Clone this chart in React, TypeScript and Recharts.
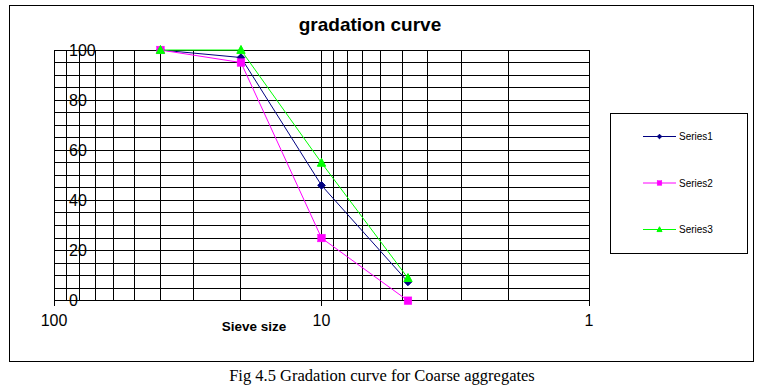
import React from 'react';
import { LineChart, Line, XAxis, YAxis, CartesianGrid, Legend } from 'recharts';

const sieveSizes = [40, 20, 10, 4.75];
const series1 = [100, 97, 46, 7.5];
const series2 = [100, 95, 25, 0];
const series3 = [100, 100, 55, 9];
const seriesNames = ['Series1', 'Series2', 'Series3'];
const seriesColors = ['#000080', '#FF00FF', '#00FF00'];
const xTicks = [100, 90, 80, 70, 60, 50, 40, 30, 20, 10, 9, 8, 7, 6, 5, 4, 3, 2, 1];
const xLabelTicks = [100, 10, 1];
const yTicks = [0, 5, 10, 15, 20, 25, 30, 35, 40, 45, 50, 55, 60, 65, 70, 75, 80, 85, 90, 95, 100];
const yLabelTicks = [0, 20, 40, 60, 80, 100];
const titleText = 'gradation curve';
const xAxisTitle = 'Sieve size';
const captionText = 'Fig 4.5 Gradation curve for Coarse aggregates';

const data = sieveSizes.map((x, i) => ({ x, s1: series1[i], s2: series2[i], s3: series3[i] }));

const SANS = '"Liberation Sans", Arial, sans-serif';
const SERIF = '"Liberation Serif", "Times New Roman", serif';

const markerShape = (idx: number, cx: number, cy: number, s: number, key?: any) => {
  const c = seriesColors[idx];
  if (idx === 0) {
    return (
      <polygon key={key} points={`${cx},${cy - s} ${cx + s},${cy} ${cx},${cy + s} ${cx - s},${cy}`} fill={c} stroke={c} />
    );
  }
  if (idx === 1) {
    return <rect key={key} x={cx - s} y={cy - s} width={2 * s} height={2 * s} fill={c} stroke={c} strokeWidth={0.5} />;
  }
  return (
    <polygon
      key={key}
      points={`${cx},${cy - s * 1.2} ${cx + s * 1.1},${cy + s * 0.9} ${cx - s * 1.1},${cy + s * 0.9}`}
      fill={c}
      stroke={c}
    />
  );
};

const makeDot = (idx: number) => (props: any) => {
  const { cx, cy, index } = props;
  if (cx == null || cy == null) return <g key={`d${idx}-${index}`} />;
  return markerShape(idx, cx, cy, 3.8, `d${idx}-${index}`);
};

const XTick = (props: any) => {
  const { x, y, payload } = props;
  if (!xLabelTicks.includes(payload.value)) return <g />;
  return (
    <g>
      <line x1={x} y1={y} x2={x} y2={y + 5} stroke="#000" strokeWidth={1} shapeRendering="crispEdges" />
      <text x={x} y={y + 20} dy="0.35em" textAnchor="middle" fontSize={16} fontFamily={SANS} fill="#000">
        {payload.value}
      </text>
    </g>
  );
};

const YTick = (props: any) => {
  const { x, y, payload } = props;
  if (!yLabelTicks.includes(payload.value)) return <g />;
  return (
    <text x={x + 15} y={y} dy="0.35em" textAnchor="start" fontSize={16} fontFamily={SANS} fill="#000">
      {payload.value}
    </text>
  );
};

const LegendBox = (props: any) => {
  const payload = props.payload || [];
  return (
    <svg width={138} height={141} style={{ display: 'block' }}>
      <rect x={0.5} y={0.5} width={137} height={140} fill="#fff" stroke="#000" strokeWidth={1} />
      {payload.map((entry: any, i: number) => {
        const idx = seriesNames.indexOf(entry.value);
        const cy = 23.5 + i * 46.5;
        return (
          <g key={entry.value}>
            <line x1={33} y1={cy} x2={66} y2={cy} stroke={seriesColors[idx]} strokeWidth={1} />
            {markerShape(idx, 49.5, cy, 2.3)}
            <text x={69} y={cy} dy="0.35em" fontSize={10} fontFamily={SANS} fill="#000">
              {entry.value}
            </text>
          </g>
        );
      })}
    </svg>
  );
};

const crispCss = `
.recharts-cartesian-grid line, .recharts-cartesian-axis-line { shape-rendering: crispEdges; }
`;

export default function App() {
  return (
    <div style={{ position: 'absolute', left: 0, top: 0, width: 764, height: 390, background: '#fff' }}>
      <style>{crispCss}</style>
      <div
        style={{
          position: 'absolute',
          left: 9,
          top: 5,
          width: 743,
          height: 355,
          border: '1px solid #000',
        }}
      />
      <div
        style={{
          position: 'absolute',
          left: 0,
          top: 13,
          width: 740,
          textAlign: 'center',
          fontFamily: SANS,
          fontWeight: 'bold',
          fontSize: 19,
          lineHeight: '24px',
          color: '#000',
        }}
      >
        {titleText}
      </div>
      <div style={{ position: 'absolute', left: 0, top: 0 }}>
        <LineChart width={764} height={390} data={data} margin={{ top: 50, right: 175, bottom: 59.3, left: 0 }}>
          <CartesianGrid stroke="#000" strokeWidth={1} fill="none" />
          <XAxis
            dataKey="x"
            type="number"
            scale="log"
            domain={[1, 100]}
            reversed
            allowDataOverflow
            ticks={xTicks}
            interval={0}
            tick={<XTick />}
            tickLine={false}
            tickSize={0}
            tickMargin={0}
            height={30}
            axisLine={{ stroke: '#000', strokeWidth: 1 }}
          />
          <YAxis
            type="number"
            domain={[0, 100]}
            ticks={yTicks}
            interval={0}
            tick={<YTick />}
            tickLine={false}
            tickSize={0}
            tickMargin={0}
            width={54}
            axisLine={{ stroke: '#000', strokeWidth: 1 }}
          />
          <Legend
            layout="vertical"
            align="center"
            verticalAlign="middle"
            content={<LegendBox />}
            wrapperStyle={{ position: 'absolute', left: 610, top: 113, width: 138, height: 141, margin: 0 }}
          />
          <Line
            name={seriesNames[0]}
            dataKey="s1"
            stroke={seriesColors[0]}
            strokeWidth={1}
            dot={makeDot(0)}
            activeDot={false}
            isAnimationActive={false}
          />
          <Line
            name={seriesNames[1]}
            dataKey="s2"
            stroke={seriesColors[1]}
            strokeWidth={1}
            dot={makeDot(1)}
            activeDot={false}
            isAnimationActive={false}
          />
          <Line
            name={seriesNames[2]}
            dataKey="s3"
            stroke={seriesColors[2]}
            strokeWidth={1}
            dot={makeDot(2)}
            activeDot={false}
            isAnimationActive={false}
          />
        </LineChart>
      </div>
      <div
        style={{
          position: 'absolute',
          left: 221,
          top: 318,
          width: 66,
          textAlign: 'center',
          fontFamily: SANS,
          fontWeight: 'bold',
          fontSize: 13.5,
          lineHeight: '18px',
          color: '#000',
        }}
      >
        {xAxisTitle}
      </div>
      <div
        style={{
          position: 'absolute',
          left: 0,
          top: 366,
          width: 764,
          textAlign: 'center',
          fontFamily: SERIF,
          fontSize: 16.5,
          lineHeight: '20px',
          color: '#000',
        }}
      >
        {captionText}
      </div>
    </div>
  );
}
